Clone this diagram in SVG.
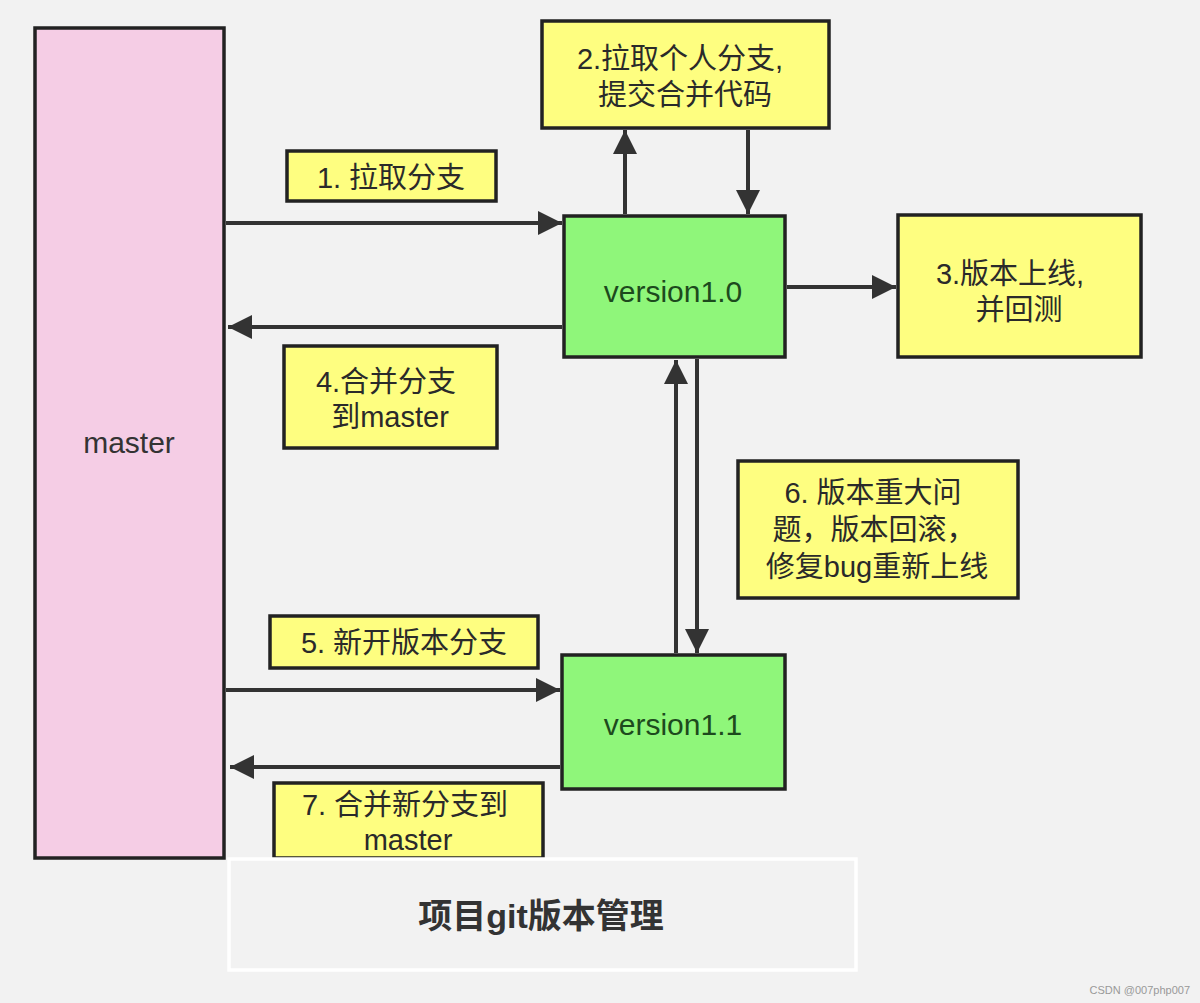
<svg xmlns="http://www.w3.org/2000/svg" width="1200" height="1003" viewBox="0 0 1200 1003">
<defs>
<marker id="ah" viewBox="0 0 10 10" refX="10" refY="5" markerWidth="7" markerHeight="6" markerUnits="strokeWidth" orient="auto">
<path d="M0,0 L10,5 L0,10 z" fill="#333"/>
</marker>
<style>
.box{stroke:#222;stroke-width:3.5}
.y{fill:#fefe80}
.g{fill:#8ff67a}
.p{fill:#f5cde5}
.t{font-family:"Liberation Sans","Noto Sans CJK SC",sans-serif;font-size:29px;fill:#2a2a2a;text-anchor:middle}
.v{font-family:"Liberation Sans","Noto Sans CJK SC",sans-serif;font-size:30px;fill:#1d4a1d;text-anchor:middle}
.c{stroke:#333;stroke-width:4;fill:none;marker-end:url(#ah)}
</style>
</defs>
<rect width="1200" height="1003" fill="#f2f2f2"/>
<g id="master"><rect class="box p" x="35" y="28" width="189" height="830"/><text class="t" x="129" y="453" style="font-size:30px;fill:#333">master</text></g>
<g id="step2"><rect class="box y" x="542" y="21" width="287" height="107"/><text class="t" x="680" y="69">2.拉取个人分支,</text><text class="t" x="685" y="105">提交合并代码</text></g>
<g id="v10"><rect class="box g" x="564" y="216" width="221" height="141"/><text class="v" x="673" y="302">version1.0</text></g>
<g id="step1"><rect class="box y" x="287" y="151" width="209" height="50"/><text class="t" x="391" y="188">1. 拉取分支</text></g>
<g id="step4"><rect class="box y" x="284" y="346" width="213" height="102"/><text class="t" x="386" y="392">4.合并分支</text><text class="t" x="390" y="427">到master</text></g>
<g id="step3"><rect class="box y" x="898" y="215" width="243" height="142"/><text class="t" x="1010" y="284">3.版本上线,</text><text class="t" x="1019" y="320">并回测</text></g>
<g id="step6"><rect class="box y" x="738" y="461" width="280" height="137"/><text class="t" x="873" y="503">6. 版本重大问</text><text class="t" x="874" y="540">题，版本回滚，</text><text class="t" x="877" y="577">修复bug重新上线</text></g>
<g id="step5"><rect class="box y" x="270" y="616" width="268" height="52"/><text class="t" x="404" y="653">5. 新开版本分支</text></g>
<g id="v11"><rect class="box g" x="562" y="655" width="223" height="134"/><text class="v" x="673" y="735">version1.1</text></g>
<g id="step7"><rect class="box y" x="274" y="783" width="269" height="75"/><text class="t" x="405" y="815">7. 合并新分支到</text><text class="t" x="408" y="850">master</text></g>
<g id="title"><rect x="229" y="859" width="627" height="111" fill="#f2f2f2" stroke="#ffffff" stroke-width="3.5"/><text x="541" y="928" style="font-family:'Liberation Sans','Noto Sans CJK SC',sans-serif;font-size:34px;font-weight:bold;fill:#333;text-anchor:middle">项目git版本管理</text></g>
<g id="connectors">
<path class="c" d="M226,223 H562"/>
<path class="c" d="M562,327 H228"/>
<path class="c" d="M625,214 V130"/>
<path class="c" d="M748,130 V214"/>
<path class="c" d="M787,287 H896"/>
<path class="c" d="M676,653 V360"/>
<path class="c" d="M697,359 V653"/>
<path class="c" d="M226,690 H560"/>
<path class="c" d="M560,767 H230"/>
</g>
<text x="1190" y="994" style="font-family:'Liberation Sans',sans-serif;font-size:11px;fill:#999;text-anchor:end">CSDN @007php007</text>
</svg>
